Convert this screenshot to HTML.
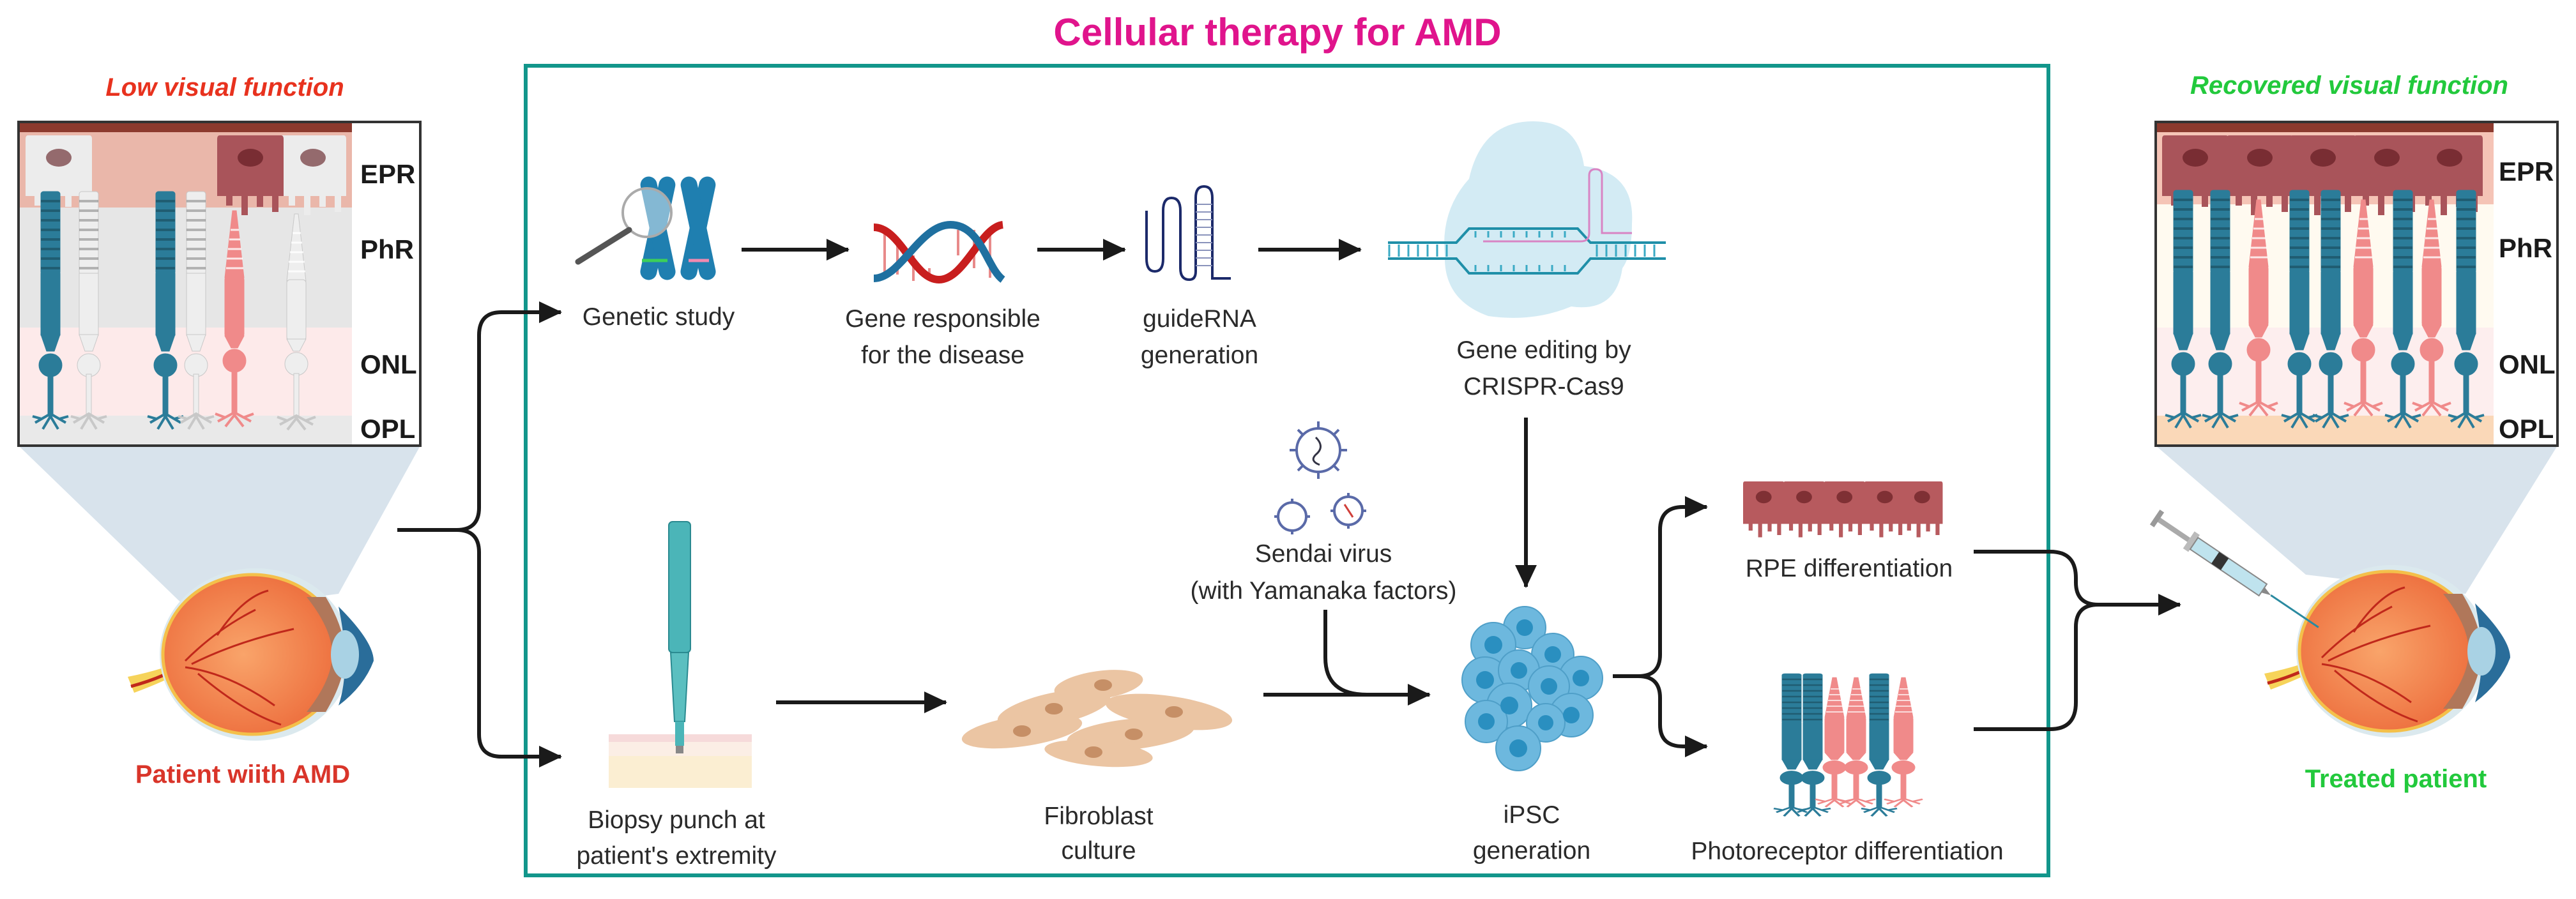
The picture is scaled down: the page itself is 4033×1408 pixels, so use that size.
<!DOCTYPE html>
<html><head><meta charset="utf-8"><style>
html,body{margin:0;padding:0;background:#fff}
svg{display:block}
text{font-family:"Liberation Sans",sans-serif}
.lb{font-size:39px;fill:#2a2a2a;text-anchor:middle}
.ly{font-size:42px;font-weight:bold;fill:#1a1a1a}
</style></head><body>
<svg width="4033" height="1408" viewBox="0 0 4033 1408" xmlns="http://www.w3.org/2000/svg">
<defs>
<marker id="ah" markerUnits="userSpaceOnUse" markerWidth="36" markerHeight="34" refX="34" refY="17" orient="auto"><path d="M0 0 L36 17 L0 34Z" fill="#1a1a1a"/></marker>
<radialGradient id="eyeg" cx="0.45" cy="0.5" r="0.6"><stop offset="0" stop-color="#f9a46a"/><stop offset="1" stop-color="#ec6a3a"/></radialGradient>
<g id="rod">
<rect x="-15" y="0" width="30" height="130" rx="4"/>
<path d="M-15 15H15M-15 30H15M-15 45H15M-15 60H15M-15 75H15M-15 90H15M-15 105H15M-15 120H15" stroke="rgba(0,0,0,0.25)" stroke-width="4"/>
<rect x="-15" y="128" width="30" height="97"/>
<path d="M-15 224 L-6 250 L6 250 L15 224Z"/>
<circle cy="272" r="18"/>
<rect x="-4" y="286" width="8" height="66"/>
<path d="M-24 362 L0 348 L24 362 M-12 372 L0 352 L12 372 M-28 352 L-14 356 M28 352 L14 356" fill="none" stroke-width="4"/>
</g>
<g id="cone">
<path d="M-3 0 L3 0 L15 105 L-15 105Z"/>
<path d="M-6 30H7M-8 45H9M-10 60H11M-12 75H13M-13 90H14" stroke="rgba(255,255,255,0.8)" stroke-width="3"/>
<rect x="-15" y="103" width="30" height="95" rx="5"/>
<path d="M-15 196 L-5 215 L5 215 L15 196Z"/>
<circle cy="235" r="18"/>
<rect x="-4" y="250" width="8" height="68"/>
<path d="M-26 330 L0 316 L26 330 M-14 338 L0 320 L14 338 M-30 318 L-14 324 M30 318 L14 324" fill="none" stroke-width="4"/>
</g>
<g id="rpe">
<path d="M-48 0 H48 Q52 0 52 6 V95 H44 V120 H34 V95 H20 V112 H10 V95 H-4 V125 H-14 V95 H-28 V110 H-38 V95 H-52 V6 Q-52 0 -48 0Z"/>
<ellipse cx="0" cy="35" rx="20" ry="14" fill="rgba(90,20,25,0.6)"/>
</g>
<g id="eye">
<path d="M-190 60 Q-150 45 -120 30 L-115 10 Q-150 25 -200 35Z" fill="#f6d35a"/>
<path d="M-195 50 Q-150 38 -115 18" stroke="#c0281b" stroke-width="5" fill="none"/>
<ellipse cx="0" cy="0" rx="150" ry="135" fill="#dbe9ee"/>
<ellipse cx="-5" cy="0" rx="140" ry="125" fill="url(#eyeg)" stroke="#f4c04a" stroke-width="5"/>
<path d="M-110 10 Q-60 -40 0 -70 M-110 20 Q-40 30 30 80 M-100 15 Q-30 -20 60 -40 M-90 30 Q-20 90 40 110 M-60 -30 Q-20 -90 20 -100" stroke="#c0281b" stroke-width="3" fill="none"/>
<path d="M80 -90 Q120 -40 120 0 Q120 40 80 90 L110 90 Q140 40 140 0 Q140 -40 110 -90Z" fill="#b0775a"/>
<path d="M130 -75 Q185 -20 185 10 Q170 50 130 80 Q150 20 130 -75Z" fill="#2a6d9a"/>
<ellipse cx="140" cy="0" rx="22" ry="38" fill="#a9d2e4"/>
</g>
</defs>

<text x="352" y="150" font-size="40" font-style="italic" font-weight="bold" fill="#e8321e" text-anchor="middle">Low visual function</text>
<text x="2000" y="71" font-size="60" font-weight="bold" fill="#e0148c" text-anchor="middle">Cellular therapy for AMD</text>
<text x="3678" y="147" font-size="40" font-style="italic" font-weight="bold" fill="#22c93c" text-anchor="middle">Recovered visual function</text>

<polygon points="29,698 658,698 530,930 300,960" fill="#d8e3ec"/>
<polygon points="3375,698 4004,698 3860,930 3610,900" fill="#d8e3ec"/>

<rect x="29" y="191" width="629" height="507" fill="#fff"/>
<rect x="29" y="191" width="522" height="16" fill="#8c3a2e"/>
<rect x="29" y="207" width="522" height="118" fill="#eab7aa"/>
<rect x="29" y="325" width="522" height="188" fill="#e6e6e6"/>
<rect x="29" y="513" width="522" height="138" fill="#fdeaea"/>
<rect x="29" y="651" width="522" height="47" fill="#e9e9e9"/>
<use href="#rpe" x="92" y="212" fill="#ececec"/>
<use href="#rpe" x="490" y="212" fill="#ececec"/>
<use href="#rod" x="79" y="300" fill="#2b7c99" stroke="#2b7c99"/>
<use href="#rod" x="139" y="300" fill="#eeeeee" stroke="#c8c8c8"/>
<use href="#rod" x="259" y="300" fill="#2b7c99" stroke="#2b7c99"/>
<use href="#rod" x="307" y="300" fill="#eeeeee" stroke="#c8c8c8"/>
<use href="#rpe" x="392" y="212" fill="#a9545a"/>
<use href="#cone" x="367" y="330" fill="#f08a8a" stroke="#f08a8a"/>
<use href="#cone" x="464" y="335" fill="#eeeeee" stroke="#c8c8c8"/>
<rect x="29" y="191" width="629" height="507" fill="none" stroke="#333" stroke-width="4"/>
<text class="ly" x="564" y="287">EPR</text>
<text class="ly" x="564" y="405">PhR</text>
<text class="ly" x="564" y="585">ONL</text>
<text class="ly" x="564" y="686">OPL</text>

<use href="#eye" x="400" y="1025"/>
<text x="380" y="1226" font-size="40" font-weight="bold" fill="#d9352a" text-anchor="middle">Patient wiith AMD</text>

<rect x="3375" y="191" width="629" height="507" fill="#fff"/>
<rect x="3375" y="191" width="529" height="16" fill="#8c3a2e"/>
<rect x="3375" y="207" width="529" height="113" fill="#f5c4b6"/>
<rect x="3375" y="320" width="529" height="193" fill="#fffaf0"/>
<rect x="3375" y="513" width="529" height="138" fill="#fdeeee"/>
<rect x="3375" y="651" width="529" height="47" fill="#fad8b8"/>
<use href="#rpe" x="3437" y="212" fill="#a9545a"/>
<use href="#rpe" x="3538" y="212" fill="#a9545a"/>
<use href="#rpe" x="3637" y="212" fill="#a9545a"/>
<use href="#rpe" x="3737" y="212" fill="#a9545a"/>
<use href="#rpe" x="3835" y="212" fill="#a9545a"/>
<use href="#rod" x="3418" y="298" fill="#2b7c99" stroke="#2b7c99"/>
<use href="#rod" x="3476" y="298" fill="#2b7c99" stroke="#2b7c99"/>
<use href="#cone" x="3536" y="313" fill="#f08a8a" stroke="#f08a8a"/>
<use href="#rod" x="3600" y="298" fill="#2b7c99" stroke="#2b7c99"/>
<use href="#rod" x="3649" y="298" fill="#2b7c99" stroke="#2b7c99"/>
<use href="#cone" x="3700" y="313" fill="#f08a8a" stroke="#f08a8a"/>
<use href="#rod" x="3762" y="298" fill="#2b7c99" stroke="#2b7c99"/>
<use href="#cone" x="3807" y="313" fill="#f08a8a" stroke="#f08a8a"/>
<use href="#rod" x="3861" y="298" fill="#2b7c99" stroke="#2b7c99"/>
<rect x="3375" y="191" width="629" height="507" fill="none" stroke="#333" stroke-width="4"/>
<text class="ly" x="3912" y="283">EPR</text>
<text class="ly" x="3912" y="403">PhR</text>
<text class="ly" x="3912" y="585">ONL</text>
<text class="ly" x="3912" y="686">OPL</text>

<use href="#eye" x="3745" y="1020"/>
<g transform="translate(3377,812) rotate(34)">
<rect x="0" y="-4" width="60" height="8" fill="#aaa"/>
<rect x="-4" y="-14" width="8" height="28" fill="#999"/>
<rect x="60" y="-16" width="10" height="32" fill="#bbb"/>
<rect x="70" y="-11" width="130" height="22" fill="#bfe3ee" stroke="#888" stroke-width="2"/>
<rect x="110" y="-11" width="18" height="22" fill="#333"/>
<path d="M200 -5 L215 0 L200 5Z" fill="#888"/>
<line x1="215" y1="0" x2="305" y2="0" stroke="#2a8aa0" stroke-width="3"/>
</g>
<text x="3751" y="1233" font-size="40" font-weight="bold" fill="#22c93c" text-anchor="middle">Treated patient</text>

<rect x="823" y="103" width="2384" height="1268" fill="none" stroke="#12968b" stroke-width="6"/>

<g fill="none" stroke="#1a1a1a" stroke-width="6">
<path d="M622 830 H715 Q750 830 750 795 V525 Q750 489 785 489 H878" marker-end="url(#ah)"/>
<path d="M715 830 Q750 830 750 865 V1150 Q750 1185 785 1185 H878" marker-end="url(#ah)"/>
<path d="M1161 391 H1328" marker-end="url(#ah)"/>
<path d="M1624 391 H1761" marker-end="url(#ah)"/>
<path d="M1970 391 H2130" marker-end="url(#ah)"/>
<path d="M2389 654 V919" marker-end="url(#ah)"/>
<path d="M1215 1100 H1481" marker-end="url(#ah)"/>
<path d="M1978 1088 H2238" marker-end="url(#ah)"/>
<path d="M2075 955 V1030 Q2075 1088 2140 1088"/>
<path d="M2525 1059 H2565 Q2599 1059 2599 1025 V830 Q2599 794 2635 794 H2672" marker-end="url(#ah)"/>
<path d="M2565 1059 Q2599 1059 2599 1093 V1135 Q2599 1169 2635 1169 H2672" marker-end="url(#ah)"/>
<path d="M3090 864 H3210 Q3250 864 3250 905 V912 Q3250 947 3285 947 H3413" marker-end="url(#ah)"/>
<path d="M3090 1142 H3210 Q3250 1142 3250 1100 V982 Q3250 947 3285 947"/>
</g>

<g fill="#1f7fb0">
<rect x="1017" y="275" width="26" height="165" rx="13" transform="rotate(12 1030 357)"/>
<rect x="1017" y="275" width="26" height="165" rx="13" transform="rotate(-12 1030 357)"/>
<rect x="1080" y="275" width="26" height="165" rx="13" transform="rotate(12 1093 357)"/>
<rect x="1080" y="275" width="26" height="165" rx="13" transform="rotate(-12 1093 357)"/>
</g>
<path d="M1005 408 H1045" stroke="#3ccf5a" stroke-width="5"/>
<path d="M1078 408 H1110" stroke="#f08ab0" stroke-width="5"/>
<circle cx="1013" cy="333" r="38" fill="rgba(255,255,255,0.45)" stroke="#aaa" stroke-width="4"/>
<line x1="985" y1="360" x2="905" y2="410" stroke="#555" stroke-width="9" stroke-linecap="round"/>
<text class="lb" x="1031" y="509">Genetic study</text>

<g stroke-width="4">
<path d="M1385 360V435M1405 375V430M1430 400V440M1455 420V438M1500 360V400M1525 360V420M1550 360V435" stroke="#e88a8a"/>
</g>
<path d="M1368 356 C1410 356 1430 438 1470 438 S1535 356 1570 352" fill="none" stroke="#c81e1e" stroke-width="12"/>
<path d="M1368 436 C1410 436 1440 352 1488 352 S1545 420 1570 438" fill="none" stroke="#1f70a0" stroke-width="12"/>
<text class="lb" x="1476" y="512">Gene responsible</text>
<text class="lb" x="1476" y="569">for the disease</text>

<path d="M1795 330 V405 Q1795 425 1808 425 Q1821 425 1821 405 V330 Q1821 310 1834 310 Q1848 310 1848 330 V420 Q1848 438 1862 438 Q1872 438 1872 425 V310 Q1872 292 1885 292 Q1898 292 1898 310 V436 H1927" fill="none" stroke="#1c2a6a" stroke-width="4"/>
<path d="M1872 320H1898M1872 332H1898M1872 344H1898M1872 356H1898M1872 368H1898M1872 380H1898M1872 392H1898M1872 404H1898M1872 416H1898" stroke="#8a93bb" stroke-width="2"/>
<text class="lb" x="1878" y="512">guideRNA</text>
<text class="lb" x="1878" y="569">generation</text>

<path d="M2300 280 Q2320 190 2400 190 Q2470 190 2480 260 Q2560 270 2555 350 Q2555 400 2540 420 Q2530 490 2460 480 Q2400 505 2330 495 Q2260 470 2262 400 Q2255 330 2300 280Z" fill="#d3ebf4"/>
<g fill="none" stroke="#1f8fa8" stroke-width="4">
<path d="M2173 380 H2280 L2300 358 H2470 L2490 380 H2608"/>
<path d="M2173 405 H2280 L2300 428 H2470 L2490 405 H2608"/>
</g>
<path d="M2175 383V402M2190 383V402M2205 383V402M2220 383V402M2235 383V402M2250 383V402M2265 383V402M2500 383V402M2515 383V402M2530 383V402M2545 383V402M2560 383V402M2575 383V402M2590 383V402M2310 362V372M2330 362V372M2350 362V372M2370 362V372M2390 362V372M2410 362V372M2430 362V372M2450 362V372M2310 415V425M2330 415V425M2350 415V425M2370 415V425M2390 415V425M2410 415V425M2430 415V425M2450 415V425" stroke="#3aaac4" stroke-width="3"/>
<path d="M2322 378 H2475 Q2488 378 2488 365 V275 Q2488 265 2498 265 Q2508 265 2508 275 V365 H2555" fill="none" stroke="#d884c4" stroke-width="3"/>
<text class="lb" x="2417" y="561">Gene editing by</text>
<text class="lb" x="2417" y="618">CRISPR-Cas9</text>

<g fill="#fff" stroke="#5a6aa8" stroke-width="4">
<circle cx="2064" cy="705" r="34"/>
<circle cx="2023" cy="809" r="22"/>
<circle cx="2111" cy="800" r="22"/>
</g>
<path d="M2064 660V671M2064 739V750M2019 705H2030M2098 705H2109M2032 673L2040 681M2096 673L2088 681M2032 737L2040 729M2096 737L2088 729M2023 781V787M2023 831V837M1995 809H2001M2045 809H2051M2111 772V778M2111 822V828M2083 800H2089M2133 800H2139" stroke="#5a6aa8" stroke-width="4"/>
<path d="M2060 685 Q2075 700 2060 712 Q2050 722 2066 728" fill="none" stroke="#334" stroke-width="3"/>
<path d="M2105 790 L2118 810" stroke="#d0403a" stroke-width="3"/>
<text class="lb" x="2072" y="880">Sendai virus</text>
<text class="lb" x="2072" y="938">(with Yamanaka factors)</text>

<rect x="953" y="1150" width="224" height="12" fill="#f6dada"/>
<rect x="953" y="1162" width="224" height="22" fill="#fbeee5"/>
<rect x="953" y="1184" width="224" height="50" fill="#fbeed2"/>
<rect x="1047" y="817" width="34" height="205" rx="6" fill="#4bb5b8" stroke="#2a8a90" stroke-width="2"/>
<path d="M1050 1022 L1056 1130 L1072 1130 L1078 1022Z" fill="#5bbfc0" stroke="#2a8a90" stroke-width="2"/>
<rect x="1057" y="1130" width="14" height="38" fill="#4bb5b8"/>
<rect x="1058" y="1168" width="12" height="12" fill="#888"/>
<text class="lb" x="1059" y="1297">Biopsy punch at</text>
<text class="lb" x="1059" y="1353">patient's extremity</text>

<g fill="#ebc5a3">
<ellipse cx="1720" cy="1073" rx="70" ry="22" transform="rotate(-8 1720 1073)"/>
<ellipse cx="1650" cy="1110" rx="90" ry="25" transform="rotate(-12 1650 1110)"/>
<ellipse cx="1830" cy="1115" rx="100" ry="25" transform="rotate(8 1830 1115)"/>
<ellipse cx="1600" cy="1145" rx="95" ry="24" transform="rotate(-8 1600 1145)"/>
<ellipse cx="1770" cy="1150" rx="100" ry="24" transform="rotate(-6 1770 1150)"/>
<ellipse cx="1720" cy="1180" rx="85" ry="20" transform="rotate(5 1720 1180)"/>
</g>
<g fill="#c68f66">
<ellipse cx="1727" cy="1073" rx="14" ry="9"/><ellipse cx="1650" cy="1110" rx="14" ry="9"/>
<ellipse cx="1838" cy="1115" rx="14" ry="9"/><ellipse cx="1600" cy="1145" rx="14" ry="9"/>
<ellipse cx="1775" cy="1150" rx="14" ry="9"/><ellipse cx="1712" cy="1178" rx="14" ry="9"/>
</g>
<text class="lb" x="1720" y="1291">Fibroblast</text>
<text class="lb" x="1720" y="1345">culture</text>

<g fill="#6db8de" stroke="#4f9fc8" stroke-width="2">
<circle cx="2387" cy="983" r="33"/><circle cx="2338" cy="1010" r="35"/><circle cx="2431" cy="1025" r="33"/>
<circle cx="2325" cy="1065" r="36"/><circle cx="2378" cy="1050" r="32"/><circle cx="2475" cy="1062" r="34"/>
<circle cx="2425" cy="1075" r="32"/><circle cx="2363" cy="1105" r="35"/><circle cx="2327" cy="1130" r="33"/>
<circle cx="2460" cy="1120" r="34"/><circle cx="2420" cy="1132" r="30"/><circle cx="2377" cy="1172" r="35"/>
</g>
<g fill="#2a8fc0">
<circle cx="2387" cy="983" r="13"/><circle cx="2338" cy="1010" r="14"/><circle cx="2431" cy="1025" r="13"/>
<circle cx="2325" cy="1065" r="14"/><circle cx="2378" cy="1050" r="13"/><circle cx="2475" cy="1062" r="13"/>
<circle cx="2425" cy="1075" r="13"/><circle cx="2363" cy="1105" r="14"/><circle cx="2327" cy="1130" r="13"/>
<circle cx="2460" cy="1120" r="13"/><circle cx="2420" cy="1132" r="12"/><circle cx="2377" cy="1172" r="14"/>
</g>
<text class="lb" x="2398" y="1289">iPSC</text>
<text class="lb" x="2398" y="1345">generation</text>

<g transform="translate(2729,754) scale(0.62,0.7)">
<use href="#rpe" x="52" y="0" fill="#b75a5e"/><use href="#rpe" x="154" y="0" fill="#b75a5e"/>
<use href="#rpe" x="256" y="0" fill="#b75a5e"/><use href="#rpe" x="358" y="0" fill="#b75a5e"/>
<use href="#rpe" x="452" y="0" fill="#b75a5e"/>
</g>
<text class="lb" x="2895" y="903">RPE differentiation</text>

<g transform="translate(0,1055) scale(1,0.6)">
<use href="#rod" x="2805" y="0" fill="#2b7c99" stroke="#2b7c99"/>
<use href="#rod" x="2838" y="0" fill="#2b7c99" stroke="#2b7c99"/>
<use href="#cone" x="2872" y="10" fill="#f08a8a" stroke="#f08a8a"/>
<use href="#cone" x="2906" y="10" fill="#f08a8a" stroke="#f08a8a"/>
<use href="#rod" x="2942" y="0" fill="#2b7c99" stroke="#2b7c99"/>
<use href="#cone" x="2980" y="10" fill="#f08a8a" stroke="#f08a8a"/>
</g>
<text class="lb" x="2892" y="1346">Photoreceptor differentiation</text>
</svg>
</body></html>
